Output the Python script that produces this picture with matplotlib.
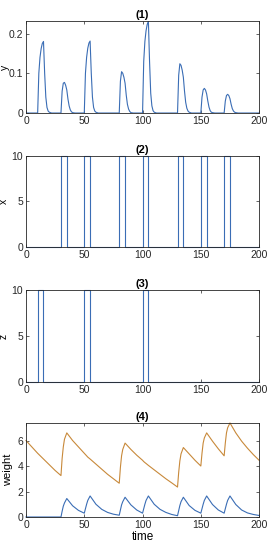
import numpy as np
import matplotlib.pyplot as plt

plt.rcParams['font.family'] = ['Liberation Sans', 'DejaVu Sans']
plt.rcParams['font.size'] = 7.5

# (1) y : пики отклика
y_t = [0,
       10, 11, 12, 13, 14, 15, 16, 17, 18, 19, 20, 22,
       30, 31, 32, 33, 34, 35, 36, 37, 38, 39, 40, 42,
       50, 51, 52, 53, 54, 55, 56, 57, 58, 59, 60, 62,
       80, 81, 82, 83, 84, 85, 86, 87, 88, 89, 90, 92,
       100, 101, 102, 103, 104, 105, 106, 107, 108, 109, 110, 112,
       130, 131, 132, 133, 134, 135, 136, 137, 138, 139, 140, 142,
       150, 151, 152, 153, 154, 155, 156, 157, 158, 159, 160, 162,
       170, 171, 172, 173, 174, 175, 176, 177, 178, 179, 180, 182,
       200]
y_v = [0,
       0, 0.10, 0.14, 0.162, 0.175, 0.18, 0.10, 0.04, 0.014, 0.005, 0.002, 0,
       0, 0.055, 0.075, 0.077, 0.07, 0.058, 0.035, 0.018, 0.008, 0.003, 0.001, 0,
       0, 0.10, 0.14, 0.163, 0.176, 0.181, 0.10, 0.04, 0.014, 0.005, 0.002, 0,
       0, 0.08, 0.104, 0.10, 0.09, 0.075, 0.045, 0.022, 0.01, 0.004, 0.001, 0,
       0, 0.13, 0.18, 0.207, 0.223, 0.231, 0.13, 0.05, 0.018, 0.006, 0.002, 0,
       0, 0.095, 0.124, 0.12, 0.108, 0.09, 0.055, 0.027, 0.012, 0.005, 0.002, 0,
       0, 0.04, 0.058, 0.062, 0.058, 0.048, 0.03, 0.015, 0.006, 0.002, 0.001, 0,
       0, 0.03, 0.044, 0.047, 0.044, 0.036, 0.022, 0.011, 0.005, 0.002, 0.001, 0,
       0]

# (2) x и (3) z : прямоугольные импульсы (начало, конец)
x_on = [(30, 35), (50, 55), (80, 85), (100, 105), (130, 135), (150, 155), (170, 175)]
z_on = [(10, 15), (50, 55), (100, 105)]
pulse_h = 10

# (4) веса
w_t = [0, 5, 10, 15, 20, 25, 30, 31, 32, 33, 35, 40, 45, 50, 51, 52, 53, 55,
       60, 65, 70, 75, 80, 81, 82, 83, 85, 90, 95, 100, 101, 102, 103, 105,
       110, 115, 120, 125, 130, 131, 132, 133, 135, 140, 145, 150, 151, 152, 153, 155,
       160, 165, 170, 171, 172, 173, 175, 180, 185, 190, 195, 200]
w1 = [0, 0, 0, 0, 0, 0, 0, 0.45, 0.85, 1.1, 1.45, 0.88, 0.52, 0.3, 0.65, 1.0, 1.3, 1.65,
      1.0, 0.6, 0.36, 0.22, 0.14, 0.55, 0.95, 1.2, 1.55, 0.95, 0.55, 0.3, 0.65, 1.0, 1.3, 1.65,
      1.0, 0.6, 0.36, 0.2, 0.1, 0.5, 0.9, 1.2, 1.55, 0.9, 0.52, 0.3, 0.65, 1.0, 1.3, 1.65,
      0.98, 0.55, 0.3, 0.65, 1.0, 1.3, 1.65, 0.98, 0.55, 0.32, 0.2, 0.12]
w2 = [6.0, 5.5, 5.0, 4.55, 4.1, 3.65, 3.25, 4.6, 5.5, 6.1, 6.6, 6.0, 5.5, 5.0, 4.9, 4.8, 4.7, 4.55,
      4.15, 3.75, 3.35, 3.0, 2.65, 3.9, 4.8, 5.3, 5.8, 5.3, 4.85, 4.45, 4.35, 4.27, 4.2, 4.05,
      3.7, 3.35, 3.0, 2.68, 2.35, 3.5, 4.4, 4.95, 5.45, 4.95, 4.45, 4.0, 5.0, 5.8, 6.2, 6.6,
      5.95, 5.35, 4.8, 5.8, 6.6, 7.0, 7.38, 6.6, 5.95, 5.4, 4.9, 4.45]

def pulses(on, h):
    t, v = [0], [0]
    for a, b in on:
        t += [a, a, b, b]
        v += [0, h, h, 0]
    t.append(200)
    v.append(0)
    return t, v

blue = '#3a6db5'
orange = '#c8893a'

fig = plt.figure(figsize=(2.72, 5.5), dpi=100)
rects = [[0.0956, 0.7945, 0.857, 0.167],
         [0.0956, 0.551, 0.857, 0.1655],
         [0.0956, 0.3055, 0.857, 0.167],
         [0.0956, 0.060, 0.857, 0.171]]
axs = [fig.add_axes(r) for r in rects]

axs[0].plot(y_t, y_v, color=blue, lw=0.8)
axs[0].set_ylim(0, max(y_v))
axs[0].set_yticks([0, 0.1, 0.2])
axs[0].set_yticklabels(['0', '0.1', '0.2'])
axs[0].set_ylabel('y')
axs[0].yaxis.set_label_coords(-0.068, 0.5)

xt, xv = pulses(x_on, pulse_h)
axs[1].plot(xt, xv, color=blue, lw=0.8, clip_on=False)
axs[1].set_ylim(0, 10)
axs[1].set_yticks([0, 5, 10])
axs[1].set_ylabel('x')
axs[1].yaxis.set_label_coords(-0.075, 0.5)

zt, zv = pulses(z_on, pulse_h)
axs[2].plot(zt, zv, color=blue, lw=0.8, clip_on=False)
axs[2].set_ylim(0, 10)
axs[2].set_yticks([0, 5, 10])
axs[2].set_ylabel('z')
axs[2].yaxis.set_label_coords(-0.075, 0.5)

axs[3].plot(w_t, w1, color=blue, lw=0.8, clip_on=False)
axs[3].plot(w_t, w2, color=orange, lw=0.8, clip_on=False)
axs[3].set_ylim(0, max(w2))
axs[3].set_yticks([0, 2, 4, 6])
axs[3].set_ylabel('weight', fontsize=8)
axs[3].yaxis.set_label_coords(-0.055, 0.5)
axs[3].set_xlabel('time', labelpad=1, fontsize=8.5)

for i, ax in enumerate(axs):
    ax.set_xlim(0, 200)
    ax.set_xticks([0, 50, 100, 150, 200])
    ax.set_title('(%d)' % (i + 1), fontweight='bold', fontsize=8, pad=2)
    ax.tick_params(direction='in', top=True, right=True, length=2.5, width=0.5, pad=2, colors='#262626')
    for s in ax.spines.values():
        s.set_linewidth(0.6)
        s.set_color('#262626')

fig.savefig('out.png', dpi=100)
